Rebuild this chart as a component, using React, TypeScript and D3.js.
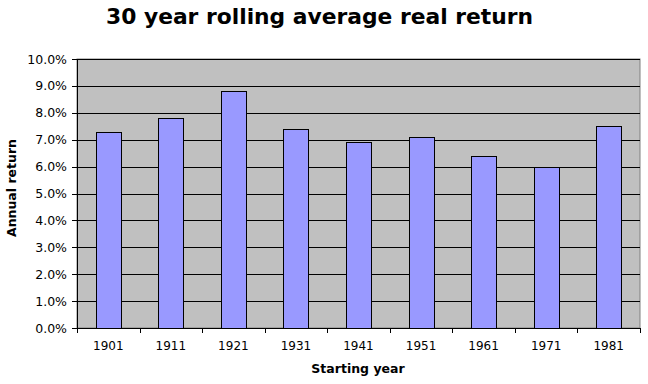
import React from "react";
import * as d3 from "d3";

const categories = ["1901", "1911", "1921", "1931", "1941", "1951", "1961", "1971", "1981"];
const values = [0.073, 0.078, 0.088, 0.074, 0.069, 0.071, 0.064, 0.060, 0.075];
const yTicks = [0, 0.01, 0.02, 0.03, 0.04, 0.05, 0.06, 0.07, 0.08, 0.09, 0.1];

const W = 648;
const H = 384;
const left = 77;
const right = 640;
const top = 59;
const bottom = 328;
const font = "Verdana, 'DejaVu Sans', sans-serif";

export default function App() {
  const x = d3.scaleBand<string>().domain(categories).range([left, right]).paddingInner(0.6).paddingOuter(0.3);
  const xb = d3.scaleBand<string>().domain(categories).range([left, right]);
  const y = d3.scaleLinear().domain([0, 0.1]).range([bottom, top]);
  const fmt = d3.format(".1%");
  return (
    <svg width={W} height={H} style={{ position: "absolute", left: 0, top: 0 }}>
      <rect x={0} y={0} width={W} height={H} fill="#ffffff" />
      <text x={319.5} y={24} textAnchor="middle" fontFamily={font} fontWeight="bold" fontSize={21.8} fill="#000">
        30 year rolling average real return
      </text>
      <rect x={left} y={top} width={right - left} height={bottom - top} fill="#c0c0c0" stroke="#808080" strokeWidth={1} />
      {yTicks.slice(1).map((t) => (
        <line key={t} x1={left} x2={right} y1={Math.round(y(t)) + 0.5} y2={Math.round(y(t)) + 0.5} stroke="#000" strokeWidth={1} />
      ))}
      {categories.map((c, i) => (
        <rect
          key={c}
          x={Math.round(x(c)!) + 0.5}
          y={Math.round(y(values[i])) + 0.5}
          width={Math.round(x.bandwidth())}
          height={Math.round(bottom - y(values[i]))}
          fill="#9999ff"
          stroke="#000"
          strokeWidth={1}
        />
      ))}
      <line x1={left + 0.5} x2={left + 0.5} y1={top} y2={bottom + 0.5} stroke="#000" />
      <line x1={left} x2={right + 0.5} y1={bottom + 0.5} y2={bottom + 0.5} stroke="#000" />
      {yTicks.map((t) => (
        <g key={t}>
          <line x1={left - 5} x2={left} y1={Math.round(y(t)) + 0.5} y2={Math.round(y(t)) + 0.5} stroke="#000" />
          <text x={67} y={y(t) + 4.5} textAnchor="end" fontFamily={font} fontSize={12.5} fill="#000">
            {fmt(t)}
          </text>
        </g>
      ))}
      {[...categories.map((c) => xb(c)!), right].map((v, i) => (
        <line key={i} x1={Math.round(v) + 0.5} x2={Math.round(v) + 0.5} y1={bottom} y2={bottom + 5} stroke="#000" />
      ))}
      {categories.map((c) => (
        <text key={c} x={xb(c)! + xb.bandwidth() / 2} y={350} textAnchor="middle" fontFamily={font} fontSize={12} fill="#000">
          {c}
        </text>
      ))}
      <text x={358} y={373} textAnchor="middle" fontFamily={font} fontWeight="bold" fontSize={12.5} fill="#000">
        Starting year
      </text>
      <text transform={`translate(16,188) rotate(-90)`} textAnchor="middle" fontFamily={font} fontWeight="bold" fontSize={12.5} fill="#000">
        Annual return
      </text>
    </svg>
  );
}
